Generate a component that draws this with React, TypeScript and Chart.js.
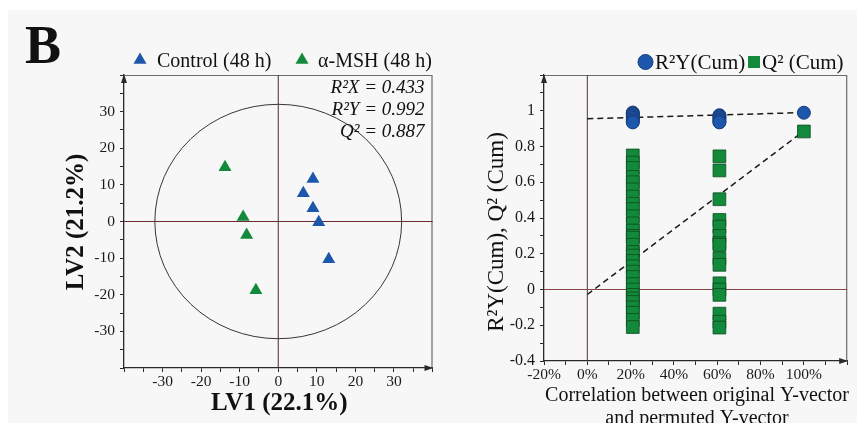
import React, { useEffect, useRef } from 'react';
import { Chart, registerables } from 'chart.js';

Chart.register(...registerables);

// ---------- Panel B left: PLS-DA score plot ----------
const controlLabel = 'Control (48 h)';
const mshLabel = 'α-MSH (48 h)';
const controlLV1 = [9.0, 6.5, 9.0, 10.5, 13.1];
const controlLV2 = [11.6, 7.7, 3.6, -0.2, -10.3];
const mshLV1 = [-13.8, -9.1, -8.2, -5.8];
const mshLV2 = [14.8, 1.2, -3.7, -18.8];
const ellipseRadius = 32;
const statLines = ['R²X = 0.433', 'R²Y = 0.992', 'Q² = 0.887'];
const scoreXTitle = 'LV1 (22.1%)';
const scoreYTitle = 'LV2 (21.2%)';

// ---------- Panel B right: permutation test ----------
const r2yLabel = 'R²Y(Cum)';
const q2Label = 'Q² (Cum)';
const r2yCorr = [21, 21, 21, 21, 21, 21, 21, 21, 61, 61, 61, 61, 61, 61, 100];
const r2yVals = [0.99, 0.985, 0.98, 0.97, 0.96, 0.95, 0.94, 0.935, 0.975, 0.97, 0.96, 0.95, 0.94, 0.935, 0.989];
const q2Corr20 = 21;
const q2Vals20 = [0.75, 0.71, 0.68, 0.63, 0.6, 0.56, 0.52, 0.48, 0.45, 0.41, 0.37, 0.33, 0.3, 0.29, 0.25, 0.21, 0.19, 0.16, 0.13, 0.1, 0.07, 0.03, 0.0, -0.03, -0.05, -0.07, -0.1, -0.13, -0.17, -0.21];
const q2Corr60 = 61;
const q2Vals60 = [0.745, 0.666, 0.505, 0.389, 0.352, 0.3, 0.259, 0.25, 0.175, 0.138, 0.035, 0.0, -0.03, -0.135, -0.18, -0.213];
const q2Corr100 = 100;
const q2Val100 = 0.884;
const r2yFitEnds = [0.955, 0.99];
const q2FitEnds = [-0.028, 0.887];
const fitCorr = [0, 100];
const permXTitle = ['Correlation between original Y-vector', 'and permuted Y-vector'];
const permYTitle = 'R²Y(Cum), Q² (Cum)';

const SERIF = "'Liberation Serif', 'Times New Roman', serif";
const BLUE = '#1c57ab';
const GREEN = '#138a3b';
const AXIS = '#2a2a2a';

function drawTriangle(ctx: CanvasRenderingContext2D, x: number, y: number, r: number, color: string) {
  ctx.save();
  ctx.fillStyle = color;
  ctx.beginPath();
  ctx.moveTo(x, y - r);
  ctx.lineTo(x + r * 0.866, y + r * 0.5);
  ctx.lineTo(x - r * 0.866, y + r * 0.5);
  ctx.closePath();
  ctx.fill();
  ctx.restore();
}

function drawArrows(ctx: CanvasRenderingContext2D, area: any) {
  ctx.save();
  ctx.fillStyle = AXIS;
  ctx.beginPath();
  ctx.moveTo(area.left, area.top - 1);
  ctx.lineTo(area.left - 3, area.top + 8);
  ctx.lineTo(area.left + 3, area.top + 8);
  ctx.closePath();
  ctx.fill();
  ctx.beginPath();
  ctx.moveTo(area.right + 1, area.bottom);
  ctx.lineTo(area.right - 8, area.bottom - 3);
  ctx.lineTo(area.right - 8, area.bottom + 3);
  ctx.closePath();
  ctx.fill();
  ctx.restore();
}

function drawFrame(ctx: CanvasRenderingContext2D, area: any) {
  ctx.save();
  ctx.strokeStyle = '#6a6a72';
  ctx.lineWidth = 1.2;
  ctx.beginPath();
  ctx.moveTo(area.left, area.top + 0.5);
  ctx.lineTo(area.right - 0.5, area.top + 0.5);
  ctx.lineTo(area.right - 0.5, area.bottom);
  ctx.stroke();
  ctx.restore();
}

const scorePlugin = {
  id: 'scoreDeco',
  beforeDatasetsDraw(chart: any) {
    const { ctx, chartArea: a, scales } = chart;
    const x0 = scales.x.getPixelForValue(0);
    const y0 = scales.y.getPixelForValue(0);
    drawFrame(ctx, a);
    ctx.save();
    ctx.lineWidth = 1;
    ctx.strokeStyle = '#4a2830';
    ctx.beginPath();
    ctx.moveTo(x0, a.top);
    ctx.lineTo(x0, a.bottom);
    ctx.stroke();
    ctx.strokeStyle = '#6e2a2a';
    ctx.beginPath();
    ctx.moveTo(a.left, y0);
    ctx.lineTo(a.right, y0);
    ctx.stroke();
    // confidence ellipse
    const rx = scales.x.getPixelForValue(ellipseRadius) - x0;
    const ry = y0 - scales.y.getPixelForValue(ellipseRadius);
    ctx.strokeStyle = '#3c3434';
    ctx.beginPath();
    ctx.ellipse(x0, y0, rx, ry, 0, 0, Math.PI * 2);
    ctx.stroke();
    ctx.restore();
  },
  afterDraw(chart: any) {
    const { ctx, chartArea: a } = chart;
    drawArrows(ctx, a);
    ctx.save();
    ctx.fillStyle = '#111';
    ctx.textBaseline = 'alphabetic';
    // panel letter
    ctx.font = `bold 54px ${SERIF}`;
    ctx.textAlign = 'left';
    ctx.fillText('B', 25, 63);
    // legend
    ctx.font = `20px ${SERIF}`;
    drawTriangle(ctx, 140, 60, 7.5, BLUE);
    ctx.fillText(controlLabel, 157, 67);
    drawTriangle(ctx, 302, 60, 7.5, GREEN);
    ctx.fillText(mshLabel, 318, 67);
    // stats
    ctx.font = `italic 19px ${SERIF}`;
    ctx.textAlign = 'right';
    ctx.textBaseline = 'middle';
    statLines.forEach((s, i) => ctx.fillText(s, a.right - 8, 88 + i * 22));
    // axis titles
    ctx.font = `bold 25px ${SERIF}`;
    ctx.textAlign = 'center';
    ctx.fillText(scoreXTitle, (a.left + a.right) / 2 + 1, 404);
    ctx.translate(77, 222);
    ctx.rotate(-Math.PI / 2);
    ctx.fillText(scoreYTitle, 0, 0);
    ctx.restore();
  },
};

const permPlugin = {
  id: 'permDeco',
  beforeDatasetsDraw(chart: any) {
    const { ctx, chartArea: a, scales } = chart;
    const x0 = scales.x.getPixelForValue(0);
    const y0 = scales.y.getPixelForValue(0);
    drawFrame(ctx, a);
    ctx.save();
    ctx.lineWidth = 1;
    ctx.strokeStyle = '#4a3040';
    ctx.beginPath();
    ctx.moveTo(x0, a.top);
    ctx.lineTo(x0, a.bottom);
    ctx.stroke();
    ctx.strokeStyle = '#8a4646';
    ctx.beginPath();
    ctx.moveTo(a.left, y0);
    ctx.lineTo(a.right, y0);
    ctx.stroke();
    ctx.restore();
  },
  afterDraw(chart: any) {
    const { ctx, chartArea: a } = chart;
    drawArrows(ctx, a);
    ctx.save();
    ctx.fillStyle = '#111';
    // legend
    ctx.font = `21px ${SERIF}`;
    ctx.textBaseline = 'alphabetic';
    ctx.fillStyle = BLUE;
    ctx.strokeStyle = '#183c7a';
    ctx.lineWidth = 1;
    ctx.beginPath();
    ctx.arc(205.5, 62, 7.5, 0, Math.PI * 2);
    ctx.fill();
    ctx.stroke();
    ctx.fillStyle = '#111';
    ctx.textAlign = 'left';
    ctx.fillText(r2yLabel, 215, 69);
    ctx.fillStyle = GREEN;
    ctx.fillRect(308, 56, 12, 12);
    ctx.fillStyle = '#111';
    ctx.fillText(q2Label, 322, 69);
    // axis titles
    ctx.textAlign = 'center';
    ctx.textBaseline = 'middle';
    ctx.font = `20px ${SERIF}`;
    const cx = 257;
    ctx.fillText(permXTitle[0], cx, 396);
    ctx.fillText(permXTitle[1], cx, 419);
    ctx.font = `23px ${SERIF}`;
    ctx.translate(57, 232);
    ctx.rotate(-Math.PI / 2);
    ctx.fillText(permYTitle, 0, 0);
    ctx.restore();
  },
};

function baseScale(min: number, max: number, step: number, cb: (v: number) => string, fit: (s: any) => void, pad: number, size: number) {
  return {
    type: 'linear' as const,
    min,
    max,
    afterFit: fit,
    border: { display: true, color: AXIS, width: 1.3 },
    grid: { drawOnChartArea: false, drawTicks: true, tickLength: 4, color: AXIS, tickColor: AXIS },
    ticks: {
      stepSize: step,
      autoSkip: false,
      maxRotation: 0,
      padding: pad,
      color: '#1a1a1a',
      font: { family: SERIF, size },
      callback: (v: any) => cb(Number(v)),
    },
  };
}

function ScorePlot() {
  const ref = useRef<HTMLCanvasElement>(null);
  useEffect(() => {
    if (!ref.current) return;
    const lbl = (v: number) => {
      const r = Math.round(v);
      return r % 10 === 0 && Math.abs(r) < 40 ? String(r) : '';
    };
    const chart = new Chart(ref.current, {
      type: 'scatter',
      data: {
        datasets: [
          {
            label: controlLabel,
            data: controlLV1.map((x, i) => ({ x, y: controlLV2[i] })),
            pointStyle: 'triangle',
            pointRadius: 7.5,
            backgroundColor: BLUE,
            borderColor: BLUE,
            borderWidth: 0,
          },
          {
            label: mshLabel,
            data: mshLV1.map((x, i) => ({ x, y: mshLV2[i] })),
            pointStyle: 'triangle',
            pointRadius: 7.5,
            backgroundColor: GREEN,
            borderColor: GREEN,
            borderWidth: 0,
          },
        ],
      },
      options: {
        responsive: false,
        animation: false,
        layout: { padding: { left: 0, right: 6, top: 75, bottom: 0 } },
        plugins: { legend: { display: false }, tooltip: { enabled: false } },
        scales: {
          x: baseScale(-40, 40, 5, lbl, (s: any) => { s.height = 55; }, 1, 15.5),
          y: baseScale(-40, 40, 5, lbl, (s: any) => { s.width = 124; }, 5, 15.5),
        },
      } as any,
      plugins: [scorePlugin],
    });
    return () => chart.destroy();
  }, []);
  return <canvas ref={ref} width={440} height={423} style={{ position: 'absolute', left: 0, top: 0 }} />;
}

function PermPlot() {
  const ref = useRef<HTMLCanvasElement>(null);
  useEffect(() => {
    if (!ref.current) return;
    const xl = (v: number) => {
      const r = Math.round(v);
      return r % 20 === 0 && r < 120 ? `${r}%` : '';
    };
    const yl = (v: number) => {
      const t = Math.round(v * 10);
      return t % 2 === 0 && t < 12 ? String(t / 10) : '';
    };
    const q2Data = [
      ...q2Vals20.map((y) => ({ x: q2Corr20, y })),
      ...q2Vals60.map((y) => ({ x: q2Corr60, y })),
      { x: q2Corr100, y: q2Val100 },
    ];
    const chart = new Chart(ref.current, {
      type: 'scatter',
      data: {
        datasets: [
          {
            type: 'line',
            label: 'R²Y fit',
            data: fitCorr.map((x, i) => ({ x, y: r2yFitEnds[i] })),
            borderColor: '#1a1a1a',
            borderWidth: 1.5,
            borderDash: [6, 4],
            pointRadius: 0,
            fill: false,
            order: 3,
          },
          {
            type: 'line',
            label: 'Q² fit',
            data: fitCorr.map((x, i) => ({ x, y: q2FitEnds[i] })),
            borderColor: '#1a1a1a',
            borderWidth: 1.5,
            borderDash: [6, 4],
            pointRadius: 0,
            fill: false,
            order: 3,
          },
          {
            label: q2Label,
            data: q2Data,
            pointStyle: 'rect',
            pointRadius: 9,
            backgroundColor: GREEN,
            borderColor: '#0b4a1e',
            borderWidth: 0.8,
            order: 2,
          },
          {
            label: r2yLabel,
            data: r2yCorr.map((x, i) => ({ x, y: r2yVals[i] })),
            pointStyle: 'circle',
            pointRadius: 6.5,
            backgroundColor: BLUE,
            borderColor: '#183c7a',
            borderWidth: 1,
            order: 1,
          },
        ],
      },
      options: {
        responsive: false,
        animation: false,
        layout: { padding: { left: 0, right: 5, top: 75, bottom: 0 } },
        plugins: { legend: { display: false }, tooltip: { enabled: false } },
        scales: {
          x: baseScale(-20, 120, 10, xl, (s: any) => { s.height = 62; }, 1, 15.5),
          y: baseScale(-0.4, 1.2, 0.1, yl, (s: any) => { s.width = 104; }, 5, 16),
        },
      } as any,
      plugins: [permPlugin],
    });
    return () => chart.destroy();
  }, []);
  return <canvas ref={ref} width={417} height={423} style={{ position: 'absolute', left: 440, top: 0 }} />;
}

export default function App() {
  return (
    <div style={{ position: 'fixed', left: 0, top: 0, width: 857, height: 423, background: '#ffffff', overflow: 'hidden' }}>
      <div style={{ position: 'absolute', left: 8, top: 10, right: 0, bottom: 0, background: '#f7f7f7' }} />
      <ScorePlot />
      <PermPlot />
    </div>
  );
}
